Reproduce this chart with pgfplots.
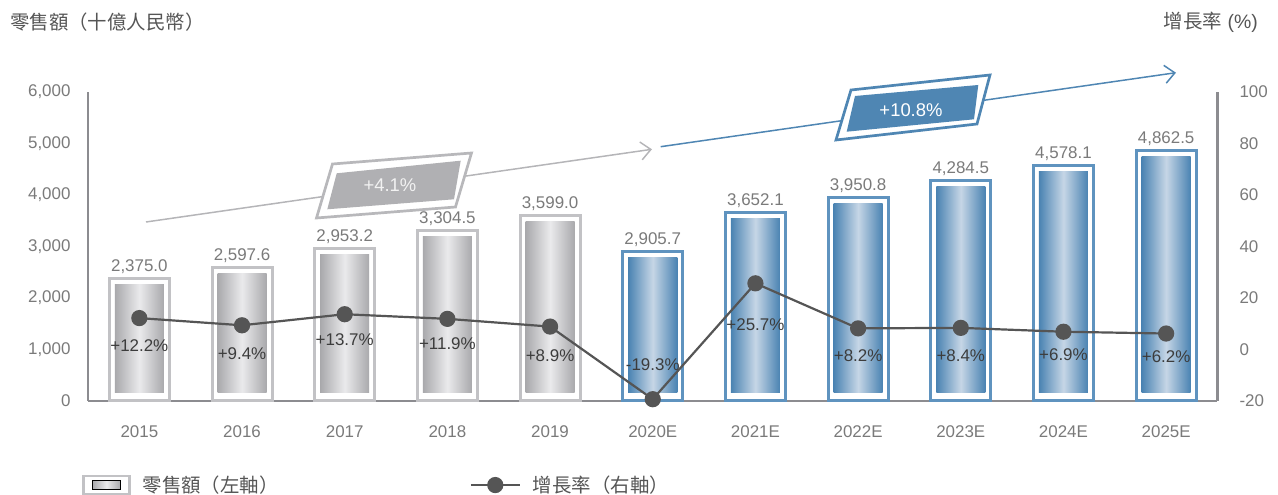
\documentclass[border=0pt]{standalone}
\usepackage{pgfplots}
\pgfplotsset{compat=1.18}
\usepackage{pgfplotstable}
\usepackage{fontspec}
\setmainfont{Liberation Sans}
\newfontfamily\cjk{Noto Sans CJK TC}
\usetikzlibrary{arrows.meta}

\definecolor{axisgray}{HTML}{8C8C90}
\definecolor{ticktext}{HTML}{7A7A7A}
\definecolor{titletext}{HTML}{555555}
\definecolor{framegray}{HTML}{C2C2C5}
\definecolor{bargrayA}{HTML}{A9A9AC}
\definecolor{bargrayB}{HTML}{EAEAEC}
\definecolor{frameblue}{HTML}{5F93BF}
\definecolor{barblueA}{HTML}{4A83B2}
\definecolor{barblueB}{HTML}{C6D6E6}
\definecolor{linegray}{HTML}{555555}
\definecolor{pcttext}{HTML}{3C3C3C}
\definecolor{boxgray}{HTML}{B0B0B3}
\definecolor{boxframegray}{HTML}{B8B8BB}
\definecolor{arrgray}{HTML}{B5B5B8}
\definecolor{boxblue}{HTML}{4F86B3}
\definecolor{boxtextgray}{HTML}{F2F2F2}

\newcommand\fs[1]{\fontsize{#1}{#1}\selectfont}

\pgfplotstableread{
x val lab
0 2375.0 2,375.0
1 2597.6 2,597.6
2 2953.2 2,953.2
3 3304.5 3,304.5
4 3599.0 3,599.0
}\hist
\pgfplotstableread{
x val lab
5 2905.7 2,905.7
6 3652.1 3,652.1
7 3950.8 3,950.8
8 4284.5 4,284.5
9 4578.1 4,578.1
10 4862.5 4,862.5
}\fcst
\pgfplotstableread{
x g dy
0 12.2 -28
1 9.4 -28
2 13.7 -26
3 11.9 -25
4 8.9 -29
5 -19.3 35
6 25.7 -42
7 8.2 -27
8 8.4 -28
9 6.9 -23
10 6.2 -23
}\growth

\pgfplotsset{
  base/.style={
    scale only axis, width=1129.5bp, height=309bp,
    at={(88bp,94bp)}, anchor=south west,
    xmin=-0.5, xmax=10.5, clip=false,
    major tick length=0pt, minor tick num=0,
    tick label style={font=\fs{17}, text=ticktext},
  }
}

\begin{document}
\begin{tikzpicture}
\useasboundingbox (0,0) rectangle (1278bp,495bp);

\begin{axis}[base,
  ymin=0, ymax=6000,
  axis x line*=bottom, axis y line*=left,
  x axis line style={draw=axisgray, line width=1.6bp},
  y axis line style={draw=axisgray, line width=2.8bp},
  xtick={0,...,10},
  xticklabels={2015,2016,2017,2018,2019,2020E,2021E,2022E,2023E,2024E,2025E},
  xticklabel style={anchor=center, yshift=-31bp},
  ytick={0,1000,...,6000},
  scaled y ticks=false,
  yticklabel style={anchor=east, xshift=-14bp, /pgf/number format/.cd, 1000 sep={,}, assume math mode=true},
  ybar, bar shift=0pt,
]
\addplot[ybar, bar shift=0pt, bar width=60bp, draw=framegray, line width=3bp, fill=white,
  nodes near coords, point meta=explicit symbolic,
  every node near coord/.append style={font=\fs{17}, text=ticktext, anchor=south, yshift=0bp}]
  table[x=x, y=val, meta=lab]{\hist};
\pgfplotsinvokeforeach{0,...,4}{
\addplot[ybar, bar shift=0pt, bar width=49bp, draw=none, left color=bargrayA, right color=bargrayA, middle color=bargrayB, yshift=8bp,
  restrict x to domain=#1:#1]
  table[x=x, y expr=\thisrow{val}-272]{\hist};
}
\addplot[ybar, bar shift=0pt, bar width=60bp, draw=frameblue, line width=3bp, fill=white,
  nodes near coords, point meta=explicit symbolic,
  every node near coord/.append style={font=\fs{17}, text=ticktext, anchor=south, yshift=0bp}]
  table[x=x, y=val, meta=lab]{\fcst};
\pgfplotsinvokeforeach{5,...,10}{
\addplot[ybar, bar shift=0pt, bar width=49bp, draw=none, left color=barblueA, right color=barblueA, middle color=barblueB, yshift=8bp,
  restrict x to domain=#1:#1]
  table[x=x, y expr=\thisrow{val}-272]{\fcst};
}
\end{axis}

\begin{axis}[base,
  ymin=-20, ymax=100,
  axis x line=none, axis y line*=right,
  y axis line style={draw=axisgray, line width=2.8bp},
  ytick={-20,0,...,100},
  yticklabel style={anchor=west, xshift=18.5bp, /pgf/number format/assume math mode=true},
  legend columns=2,
  legend cell align=left,
  legend style={at={(axis description cs:-0.0053,-0.272)}, anchor=west, draw=none, fill=none,
    inner sep=0pt, font=\fs{19.5}, text=titletext,
    /tikz/every odd column/.append style={column sep=10bp},
    /tikz/every even column/.append style={column sep=189bp}},
]
\addlegendimage{legend image code/.code={
   \draw[framegray, line width=2.5bp, fill=white] (0bp,-9bp) rectangle (46bp,9bp);
   \shade[left color=bargrayA,right color=bargrayA,middle color=bargrayB] (9bp,-4.5bp) rectangle (37bp,4.5bp);}}
\addlegendentry{\cjk 零售額（左軸）}
\addplot[linegray, line width=2.2bp, mark=*, mark size=7bp, mark options={fill=linegray, draw=linegray},
  legend image code/.code={\draw[linegray, line width=2.2bp] (0bp,0bp) -- (49bp,0bp); \fill[linegray] (24.5bp,0bp) circle (7bp);}]
  table[x=x, y=g]{\growth};
\addlegendentry{\cjk 增長率（右軸）}
\addplot[draw=none, mark=none, forget plot,
  visualization depends on={\thisrow{dy} \as \dy},
  point meta=y,
  nodes near coords={\pgfmathprintnumber[showpos,fixed,fixed zerofill,precision=1,assume math mode=true]{\pgfplotspointmeta}\%},
  every node near coord/.append style={font=\fs{17}, text=pcttext, anchor=center, yshift=\dy pt}]
  table[x=x, y=g]{\growth};
\end{axis}

\begin{scope}[x=1bp, y=-1bp, shift={(0bp,495bp)}]
 \draw[arrgray, line width=1.5bp, -{Straight Barb[length=10bp, width=18bp]}] (146,222) -- (652,149.3);
 \draw[boxblue, line width=1.5bp, -{Straight Barb[length=10bp, width=18bp]}] (660.7,146.7) -- (1176,72.7);
 \draw[boxframegray, line width=2.7bp, fill=white] (332.5,164) -- (471.5,153) -- (455.5,207) -- (316.5,218) -- cycle;
 \fill[boxgray] (336.7,173.3) -- (460.7,160.7) -- (454,199.3) -- (327.3,209.3) -- cycle;
 \node[text=boxtextgray, font=\fs{18.5}] at (390,185) {+4.1\%};
 \draw[boxblue, line width=2.7bp, fill=white] (851,90) -- (990,75) -- (977,124) -- (836,140) -- cycle;
 \fill[boxblue] (855,96) -- (978.3,85) -- (974,119.3) -- (846.7,131.7) -- cycle;
 \node[text=white, font=\fs{18.5}] at (911,110) {+10.8\%};
 \node[anchor=west, text=titletext, font=\fs{19.5}, inner sep=0pt] at (10,22) {\cjk 零售額（十億人民幣）};
 \node[anchor=east, text=titletext, font=\fs{19.5}, inner sep=0pt] at (1258,22) {{\cjk 增長率} (\%)};
\end{scope}
\end{tikzpicture}
\end{document}
